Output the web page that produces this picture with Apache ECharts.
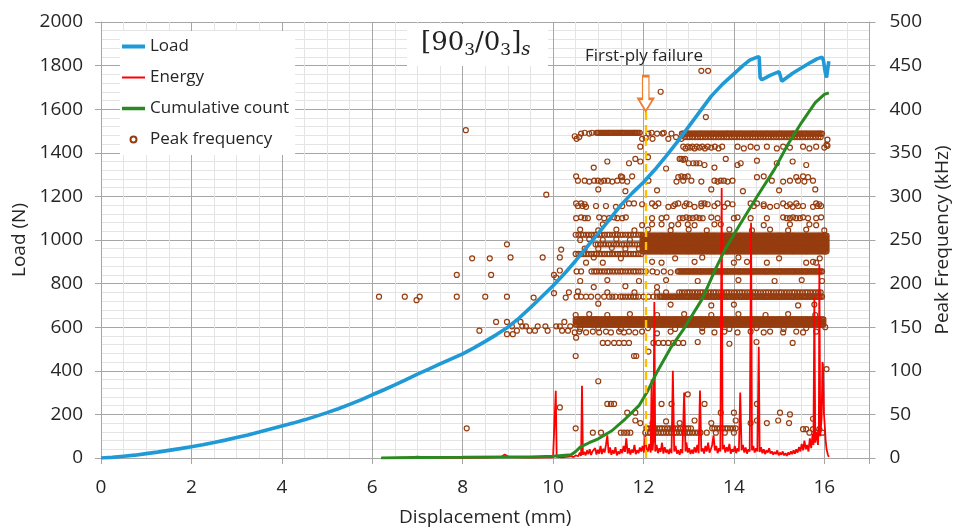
<!DOCTYPE html>
<html><head><meta charset="utf-8">
<script src="https://cdn.jsdelivr.net/npm/echarts@6/dist/echarts.min.js"></script>
<style>html,body{margin:0;padding:0;background:#fff}#main{width:960px;height:532px}</style>
</head><body><div id="main"></div>
<script>
// ---------- DATA ----------
const xTicks = [0,2,4,6,8,10,12,14,16];
const loadTicks = [0,200,400,600,800,1000,1200,1400,1600,1800,2000];
const freqTicks = [0,50,100,150,200,250,300,350,400,450,500];

// Load (N) vs displacement (mm)
const loadData = [[0,0],[0.25,3],[0.5,8],[0.75,13],[1.0,20],[1.25,27],[1.5,35],[1.75,43],[2.0,52],[2.25,61],[2.5,71],[2.75,82],[3.0,94],[3.25,106],[3.5,119],[3.75,133],[4.0,147],[4.25,160],[4.5,175],[4.75,191],[5.0,208],[5.25,226],[5.5,246],[5.75,267],[6.0,290],[6.25,312],[6.5,335],[6.75,360],[7.0,385],[7.25,408],[7.5,432],[7.75,455],[8.0,478],[8.25,505],[8.5,535],[8.75,566],[9.0,600],[9.25,642],[9.5,690],[9.75,740],[10.0,790],[10.25,845],[10.5,905],[10.75,968],[11.0,1030],[11.25,1095],[11.5,1160],[11.75,1215],[12.0,1265],[12.25,1322],[12.5,1385],[12.75,1450],[13.0,1520],[13.25,1590],[13.5,1660],[13.75,1715],[14.0,1762],[14.2,1800],[14.35,1825],[14.5,1838],[14.56,1840],[14.58,1745],[14.62,1735],[14.8,1755],[15.0,1772],[15.04,1778],[15.06,1728],[15.1,1735],[15.3,1765],[15.5,1790],[15.7,1815],[15.85,1832],[15.95,1838],[15.98,1825],[16.02,1770],[16.05,1745],[16.08,1790],[16.1,1820]];

// Cumulative count (plotted on the load scale)
const cumulativeData = [[6.2,0],[7.0,2],[8.0,3],[9.0,5],[9.5,5],[10.0,8],[10.4,15],[10.5,30],[10.6,50],[10.8,70],[11.0,88],[11.3,125],[11.6,180],[11.9,240],[12.1,310],[12.3,395],[12.6,505],[12.9,595],[13.3,730],[13.6,870],[13.8,955],[14.1,1060],[14.5,1195],[14.9,1325],[15.2,1440],[15.5,1540],[15.8,1630],[16.0,1668],[16.1,1675]];

// Energy (plotted on the load scale)
const energyData = [[6.2,0],[6.5,1],[6.8,3],[7.0,6],[7.2,3],[7.5,1],[8.0,1],[8.5,2],[8.85,4],[8.93,16],[9.02,4],[9.5,2],[10.0,3],[10.04,5],[10.06,308],[10.08,5],[10.2,3],[10.3,5],[10.4,8],[10.45,4],
[10.50,12],[10.53,20],[10.56,8],[10.59,25],[10.62,10],[10.64,331],[10.66,15],[10.69,28],[10.72,12],[10.75,35],[10.78,18],[10.81,40],[10.84,14],[10.87,30],[10.90,22],[10.93,45],[10.96,16],[10.99,38],[11.02,20],[11.05,55],[11.08,18],[11.11,42],[11.14,25],[11.17,60],[11.20,104],[11.23,22],[11.26,48],[11.29,15],[11.32,35],[11.35,20],[11.38,50],[11.41,12],[11.44,30],[11.47,18],[11.50,40],[11.53,22],[11.56,55],[11.59,28],[11.62,90],[11.65,20],[11.68,45],[11.71,16],[11.74,38],[11.77,25],[11.80,60],[11.83,18],[11.86,35],[11.89,22],[11.92,48],[11.95,30],[11.98,55],[12.01,25],[12.04,104],[12.07,40],[12.10,30],[12.13,65],[12.16,25],[12.18,360],[12.20,35],[12.22,80],[12.24,716],[12.26,30],[12.29,60],[12.32,22],[12.35,45],[12.38,28],[12.41,70],[12.44,20],[12.47,50],[12.50,25],[12.53,38],[12.56,18],[12.59,42],[12.62,22],[12.65,400],[12.68,30],[12.71,55],[12.74,20],[12.77,35],[12.80,15],[12.83,40],[12.86,22],[12.90,300],[12.93,30],[12.95,72],[12.98,25],[13.01,45],[13.04,18],[13.07,38],[13.10,20],[13.13,50],[13.16,25],[13.19,60],[13.22,22],[13.25,310],[13.28,30],[13.31,45],[13.34,20],[13.37,55],[13.40,30],[13.43,70],[13.46,25],[13.49,40],[13.52,60],[13.55,104],[13.58,35],[13.61,55],[13.64,22],[13.67,45],[13.70,30],[13.73,1238],[13.75,40],[13.78,60],[13.81,25],[13.84,50],[13.87,30],[13.90,65],[13.93,20],[13.96,40],[13.99,28],[14.02,55],[14.05,22],[14.08,45],[14.11,30],[14.14,300],[14.17,35],[14.20,60],[14.23,25],[14.26,48],[14.29,20],[14.32,40],[14.35,30],[14.38,1079],[14.40,35],[14.43,55],[14.46,25],[14.49,45],[14.52,30],[14.55,510],[14.57,28],[14.60,50],[14.63,22],[14.66,40],[14.69,18],[14.72,35],[14.75,25],[14.78,45],[14.81,20],[14.84,30],[14.87,15],[14.90,28],[14.93,18],[14.96,35],[14.99,12],[15.02,25],[15.05,15],[15.08,30],[15.11,12],[15.14,22],[15.17,10],[15.20,25],[15.23,15],[15.26,30],[15.29,18],[15.32,35],[15.35,20],[15.38,40],[15.41,25],[15.44,50],[15.47,30],[15.50,65],[15.53,35],[15.56,80],[15.59,40],[15.62,60],[15.65,30],[15.68,90],[15.71,45],[15.74,110],[15.76,60],[15.78,740],[15.80,70],[15.83,120],[15.86,60],[15.88,150],[15.89,889],[15.91,100],[15.94,180],[15.96,440],[15.97,430],[15.99,210],[16.01,150],[16.03,80],[16.05,40],[16.08,15],[16.10,5]];

// Peak frequency (kHz): positions of circles along the densely packed bands
const xGridA = [10.50,10.56,10.62,10.67,10.73,10.79,10.85,10.91,10.96,11.02,11.08,11.14,11.20,11.25,11.31,11.37,11.43,11.49,11.54,11.60,11.66,11.72,11.78,11.83,11.89,11.95,12.01,12.07,12.12,12.18,12.24,12.30,12.36,12.41,12.47,12.53,12.59,12.65,12.70,12.76,12.82,12.88,12.94,12.99,13.05,13.11,13.17,13.23,13.28,13.34,13.40,13.46,13.52,13.57,13.63,13.69,13.75,13.81,13.86,13.92,13.98,14.04,14.10,14.15,14.21,14.27,14.33,14.39,14.44,14.50,14.56,14.62,14.68,14.73,14.79,14.85,14.91,14.97,15.02,15.08,15.14,15.20,15.26,15.31,15.37,15.43,15.49,15.55,15.60,15.66,15.72,15.78,15.84,15.89,15.95,16.01,16.05];
const xGridB = [10.53,10.59,10.65,10.70,10.76,10.82,10.88,10.94,10.99,11.05,11.11,11.17,11.23,11.28,11.34,11.40,11.46,11.52,11.57,11.63,11.69,11.75,11.81,11.86,11.92,11.98,12.04,12.10,12.15,12.21,12.27,12.33,12.39,12.44,12.50,12.56,12.62,12.68,12.73,12.79,12.85,12.91,12.97,13.02,13.08,13.14,13.20,13.26,13.31,13.37,13.43,13.49,13.55,13.60,13.66,13.72,13.78,13.84,13.89,13.95,14.01,14.07,14.13,14.18,14.24,14.30,14.36,14.42,14.47,14.53,14.59,14.65,14.71,14.76,14.82,14.88,14.94,15.00,15.05,15.11,15.17,15.23,15.29,15.34,15.40,15.46,15.52,15.58,15.63,15.69,15.75,15.81,15.87,15.92,15.98,16.03];
const bandFreq = [373,372,368,256,245,234,255,252,249,246,243,240,237,214,214,190,185,185,159,156,153,34,34,29];
const bandFrom = [10.95,12.85,12.88,10.50,10.90,10.50,11.98,11.98,11.98,11.98,11.98,11.98,11.98,10.80,12.75,12.75,11.45,12.35,10.50,10.50,10.50,12.04,13.50,12.04];
const bandTo   = [11.92,15.97,15.95,11.95,11.95,11.95,16.05,16.05,16.05,16.05,16.05,16.05,16.05,11.95,15.97,15.97,11.90,15.97,16.00,16.00,16.00,13.06,14.08,13.30];
const bandGrid = ['AB','AB','B','A','B','A','AB','AB','AB','AB','AB','AB','AB','A','AB','B','A','AB','AB','AB','AB','A','A','B'];

// Peak frequency: isolated / loosely spaced circles
const pfLeft = [[6.15,185],[6.72,185],[6.98,181],[7.05,185],[7.87,185],[7.87,210],[8.07,376],[8.09,34],[8.21,229],[8.6,229],[8.63,210],[8.37,146],[8.5,185],[8.74,156],[8.98,245],[8.98,185],[9.06,230],[8.98,156],[9.09,151],[9.11,142],[8.98,142],[9.28,156],[9.32,151],[9.48,146],[9.57,184],[9.66,151],[9.77,230],[9.83,151],[9.85,302],[9.88,146],[10.02,189],[10.02,210],[10.07,151],[10.07,207],[10.15,151],[10.15,230],[10.15,215],[10.18,239],[10.2,146],[10.33,146],[10.38,151],[10.28,184],[10.35,190],[9.2,146],[9.4,151],[9.6,146],[10.25,156],[10.15,58]];
const pfUpper = [[13.28,444],[13.43,444],[12.38,420],[13.38,391],[16.07,365],[16.05,359],[10.48,369],[10.52,366],[10.58,368],[11.97,366],[12.05,367],[12.11,372],[12.2,366],[12.3,372],[12.42,372],[12.55,366],[12.62,372],[12.72,368],[12.84,366],[10.62,372],[10.7,373],[10.8,372],[10.86,373],[12.18,373],[12.45,373],
[11.93,357],[12.88,357],[12.93,355],[12.98,357],[13.03,356],[13.08,357],[13.13,355],[13.18,357],[13.24,356],[13.3,357],[13.36,355],[13.42,357],[13.5,356],[13.58,357],[13.66,355],[13.74,357],[14.08,357],[14.22,355],[14.37,357],[14.51,356],[14.73,357],[14.95,355],[15.09,357],[15.24,356],[15.53,357],[15.67,355],[15.82,357],[16.0,356],[16.07,358],
[11.2,340],[11.68,338],[11.82,343],[11.93,340],[12.8,343],[12.84,343],[12.88,342],[12.92,343],[13.0,338],[13.1,338],[13.17,338],[13.24,338],[13.35,336],[13.57,333],[13.82,343],[14.08,336],[14.15,338],[14.51,341],[14.95,338],[10.51,323],[15.3,340],[15.6,336],[12.1,345],[12.5,332],[10.9,333],
[11.5,323],[11.53,322],[11.75,323],[12.77,322],[12.84,323],[12.91,322],[12.98,323],[14.51,322],[14.66,323],[15.38,322],[15.53,323],[15.64,322],
[10.55,318],[10.70,318],[10.80,317],[10.91,318],[10.99,318],[11.06,317],[11.13,318],[11.21,318],[11.31,317],[11.42,318],[11.53,318],[11.64,317],[12.11,318],[12.73,317],[12.88,318],[13.06,318],[13.28,317],[13.57,318],[13.64,317],[13.71,318],[13.78,318],[13.86,317],[13.97,318],[14.84,318],[15.09,317],[15.24,318],[15.42,318],[15.56,317],[15.75,318],
[11.0,308],[11.6,306],[12.3,307],[13.5,308],[14.2,306],[15.0,307],[15.8,308]];
const pfMiddle = [[10.51,292],[10.62,292],[10.70,291],[11.68,292],[11.79,292],[11.97,291],[12.19,292],[12.33,292],[12.7,291],[12.77,292],[12.95,292],[13.02,291],[13.28,292],[13.35,292],[13.42,291],[13.64,292],[13.86,292],[13.97,291],[14.37,292],[14.51,292],[14.66,291],[15.09,292],[15.24,291],[15.38,292],[15.82,292],[15.89,291],
[10.55,289],[10.65,289],[10.73,288],[10.95,289],[11.17,289],[11.39,288],[11.53,289],[12.26,289],[12.55,288],[12.66,289],[12.91,289],[13.13,288],[13.28,289],[13.57,289],[13.79,288],[14.44,289],[14.66,289],[14.8,288],[14.95,289],[15.17,289],[15.3,288],[15.42,289],[15.53,289],[15.75,288],[15.85,289],[15.93,289],
[10.51,275],[10.62,276],[10.70,275],[10.77,275],[11.02,276],[11.13,275],[11.24,275],[11.35,276],[11.42,275],[11.53,275],[11.61,276],[12.19,275],[12.4,275],[12.51,276],[12.8,275],[12.87,275],[12.95,276],[13.02,275],[13.09,275],[13.17,276],[13.24,275],[13.31,275],[13.5,276],[13.64,275],[14.0,275],[14.08,276],[14.37,275],[14.73,275],[15.09,276],[15.17,275],[15.24,275],[15.31,276],[15.38,275],[15.46,275],[15.53,276],[15.64,275],[15.82,275],[15.93,276],
[11.1,268],[11.97,267],[12.19,268],[12.4,268],[12.62,267],[12.77,268],[12.98,268],[13.13,267],[13.57,268],[13.71,268],[14.66,267],[15.24,268],[15.67,268],[15.82,267],
[12.1,262],[12.6,261],[13.0,262],[13.4,261],[13.9,262],[14.4,261],[14.8,262],[15.2,261],[15.6,262],[16.0,261],[10.6,262],[11.0,261],[11.4,262],[11.8,261],
[10.6,250],[10.8,251],[11.1,250],[11.4,251],[11.7,250],[10.7,240],[11.0,240],[11.3,241],[11.6,240],[11.9,240],
[10.73,224],[11.1,224],[12.19,225],[12.4,224],[13.13,225],[14.0,224],[14.29,225],[14.73,224],[15.6,224],[15.75,225],[15.82,224],[12.7,229],[13.3,230],[14.1,230],[15.0,229],[15.9,229],[11.5,229],[10.9,230],
[10.52,214],[10.62,214],[12.05,214],[12.2,214],[12.3,213],[12.45,214],[12.6,213],
[10.6,203],[11.2,204],[11.9,203],[12.5,204],[13.2,203],[14.1,204],[14.9,203],[15.5,204],[15.95,203],[10.9,196],[11.6,197],[12.3,196],
[10.52,185],[10.62,185],[10.73,185],[10.84,185],[10.99,185],[11.13,185],[11.24,185],[11.31,185],[11.38,185],[12.0,185],[12.11,185],[12.22,185],[12.3,185],[10.55,191],[11.2,190],[11.8,190],[12.3,190],[12.5,190],
[13.5,175],[14.0,176],[15.42,175],[15.78,176],[11.0,177],[12.6,176]];
const pfLower = [[10.5,164],[10.8,165],[11.2,164],[11.7,165],[12.3,164],[12.9,165],[13.5,164],[14.1,165],[14.7,164],[15.2,165],[15.8,164],[10.6,148],[11.0,149],[11.5,148],[12.1,149],[12.7,148],[13.3,149],[13.9,148],[14.5,149],[15.1,148],[15.6,149],[16.02,150],
[10.48,144],[10.58,145],[10.73,144],[10.88,145],[11.02,144],[11.17,145],[11.28,144],[11.46,145],[11.57,144],[11.68,145],[11.82,144],[11.97,145],[12.3,143],[12.6,145],[13.3,145],[13.57,144],[13.79,145],[14.08,144],[14.37,145],[14.66,144],[14.8,145],[15.09,144],[15.38,145],[15.53,144],[15.82,145],
[10.51,138],[11.1,132],[11.21,132],[11.35,132],[11.46,132],[11.57,132],[11.68,132],[12.22,132],[12.33,132],[12.44,132],[12.55,132],[12.66,132],[12.77,132],[12.88,132],[13.2,133],[13.9,131],[14.5,133],[15.3,132],
[11.79,117],[11.84,117],[12.11,122],[10.5,117],
[11.0,88],[12.98,73],[11.2,62],[11.28,62],[11.35,62],[12.4,62],[12.62,62],[13.35,62],[14.51,62],[11.64,52],[11.82,52],[13.71,52],[14.0,52],[15.02,52],[15.24,50],[11.82,43],[11.93,40],[13.13,43],[13.5,40],[14.04,43],[14.37,40],[14.51,43],[14.73,40],[14.98,43],[15.22,40],[15.75,45],[12.2,40],[12.5,42],[12.8,40],[10.5,34],[10.88,29],[11.06,29],[11.5,29],[11.57,29],[11.64,29],[11.71,29],[13.4,29],[13.6,29],[13.8,29],[14.0,29],[15.53,33],[15.6,33],[15.67,29],[15.75,33],[15.82,29],[15.89,33],[15.96,29],[16.05,102]];

const firstPlyX = 12.05;

// ---------- BUILD ----------
const grids = {A: xGridA, B: xGridB, AB: xGridA.concat(xGridB)};
const pfData = [].concat(pfLeft, pfUpper, pfMiddle, pfLower);
bandFreq.forEach((f, i) => {
  grids[bandGrid[i]].filter(x => x >= bandFrom[i] && x <= bandTo[i]).forEach(x => pfData.push([x, f]));
});

const FONT = 'Open Sans';
const TXT = '#262626';
const MAJOR = '#a6a6a6';
const MINOR = '#e4e4e4';
const BLUE = '#1f9ad6', RED = '#ff0000', GREEN = '#2a8a22', BROWN = '#963d10';

const chart = echarts.init(document.getElementById('main'), null, {renderer: 'canvas'});
chart.setOption({
  animation: false,
  backgroundColor: '#fff',
  textStyle: {fontFamily: FONT},
  grid: {left: 101, top: 22, width: 776, height: 441, containLabel: false},
  legend: {
    orient: 'vertical', left: 120, top: 31, padding: [0, 6, 0, 2],
    backgroundColor: '#fff', itemGap: 0, itemWidth: 23, itemHeight: 6, itemTextGap: 3,
    textStyle: {fontFamily: FONT, fontSize: 17, color: TXT, lineHeight: 31},
    data: [
      {name: 'Load', icon: 'path://M0,0L23,0L23,4L0,4Z', itemStyle: {color: BLUE}},
      {name: 'Energy', icon: 'path://M0,0L23,0L23,2L0,2Z', itemStyle: {color: RED}},
      {name: 'Cumulative count', icon: 'path://M0,0L23,0L23,3.5L0,3.5Z', itemStyle: {color: GREEN}},
      {name: 'Peak frequency', icon: 'circle'}
    ],
    selectedMode: false
  },
  xAxis: {
    type: 'value', min: 0, max: 17, interval: 2,
    name: 'Displacement (mm)', nameLocation: 'middle', nameGap: 50,
    nameTextStyle: {fontFamily: FONT, fontSize: 19, color: TXT},
    axisLine: {show: true, lineStyle: {color: MAJOR, width: 1}},
    axisTick: {show: true, length: 6, lineStyle: {color: MAJOR}},
    axisLabel: {margin: 20, fontSize: 19, color: TXT, fontFamily: FONT,
      formatter: v => xTicks.includes(v) ? String(v) : ''},
    splitLine: {show: true, lineStyle: {color: MAJOR, width: 1}},
    minorTick: {show: false, splitNumber: 4},
    minorSplitLine: {show: true, lineStyle: {color: MINOR, width: 1}}
  },
  yAxis: [{
    type: 'value', min: 0, max: 2000, interval: 200,
    name: 'Load (N)', nameLocation: 'middle', nameGap: 70,
    nameTextStyle: {fontFamily: FONT, fontSize: 19, color: TXT},
    axisLine: {show: true, lineStyle: {color: MAJOR, width: 1}},
    axisTick: {show: true, length: 6, lineStyle: {color: MAJOR}},
    axisLabel: {margin: 18, fontSize: 19, color: TXT, fontFamily: FONT,
      formatter: v => loadTicks.includes(v) ? String(v) : ''},
    splitLine: {show: true, lineStyle: {color: MAJOR, width: 1}},
    minorTick: {show: false, splitNumber: 5},
    minorSplitLine: {show: true, lineStyle: {color: MINOR, width: 1}}
  }, {
    type: 'value', min: 0, max: 500, interval: 50, position: 'right',
    name: 'Peak Frequency (kHz)', nameLocation: 'middle', nameGap: 58,
    nameTextStyle: {fontFamily: FONT, fontSize: 19, color: TXT},
    axisLine: {show: true, lineStyle: {color: MAJOR, width: 1}},
    axisTick: {show: true, length: 6, lineStyle: {color: MAJOR}},
    axisLabel: {margin: 20, fontSize: 19, color: TXT, fontFamily: FONT,
      formatter: v => freqTicks.includes(v) ? String(v) : ''},
    splitLine: {show: false}
  }],
  series: [{
    name: 'Peak frequency', type: 'scatter', yAxisIndex: 1, data: pfData,
    symbol: 'circle', symbolSize: 5, large: false, largeThreshold: 1000000,
    progressive: 0, progressiveThreshold: 1000000,
    itemStyle: {color: 'rgba(0,0,0,0)', borderColor: BROWN, borderWidth: 1.2, opacity: 1},
    emphasis: {disabled: true}, z: 2
  }, {
    name: 'Energy', type: 'line', data: energyData, symbol: 'none', showSymbol: false,
    lineStyle: {color: RED, width: 1.8}, itemStyle: {color: RED}, z: 3
  }, {
    name: 'Cumulative count', type: 'line', data: cumulativeData, symbol: 'none', showSymbol: false,
    lineStyle: {color: GREEN, width: 3}, itemStyle: {color: GREEN}, z: 4
  }, {
    name: 'Load', type: 'line', data: loadData, symbol: 'none', showSymbol: false,
    lineStyle: {color: BLUE, width: 3.6}, itemStyle: {color: BLUE}, z: 5,
    markLine: {
      silent: true, symbol: ['none', 'none'], label: {show: false},
      lineStyle: {color: '#ffc000', width: 2.4, type: [8, 5]},
      data: [[{coord: [firstPlyX, 0]}, {coord: [firstPlyX, 1590]}]]
    },
    markPoint: {
      silent: true, label: {show: false},
      symbol: 'path://M4,0 L10,0 L10,22 L14,22 L7,34 L0,22 L4,22 Z', symbolSize: [15, 35],
      itemStyle: {color: '#ffffff', borderColor: '#ed7d31', borderWidth: 1.8},
      data: [{coord: [firstPlyX, 1671]}]
    }
  }],
  graphic: [
    {type: 'rect', left: 407, top: 24, z: 10, shape: {width: 141, height: 42}, style: {fill: '#fff'}},
    {type: 'text', left: 421, top: 30, z: 11, style: {
      text: '{n|[90}{b|3}{n|/0}{b|3}{n|]}{i|s}',
      rich: {
        n: {fontFamily: 'DejaVu Serif', fontSize: 26, lineHeight: 32, verticalAlign: 'middle', fill: '#222'},
        b: {fontFamily: 'DejaVu Serif', fontSize: 17, lineHeight: 17, verticalAlign: 'bottom', fill: '#222'},
        i: {fontFamily: 'DejaVu Serif', fontStyle: 'italic', fontSize: 18, lineHeight: 18, verticalAlign: 'bottom', fill: '#222'}
      }
    }},
    {type: 'text', left: 585, top: 48, z: 11, style: {text: 'First-ply failure', fontFamily: FONT, fontSize: 17, fill: TXT}}
  ]
});
</script></body></html>
